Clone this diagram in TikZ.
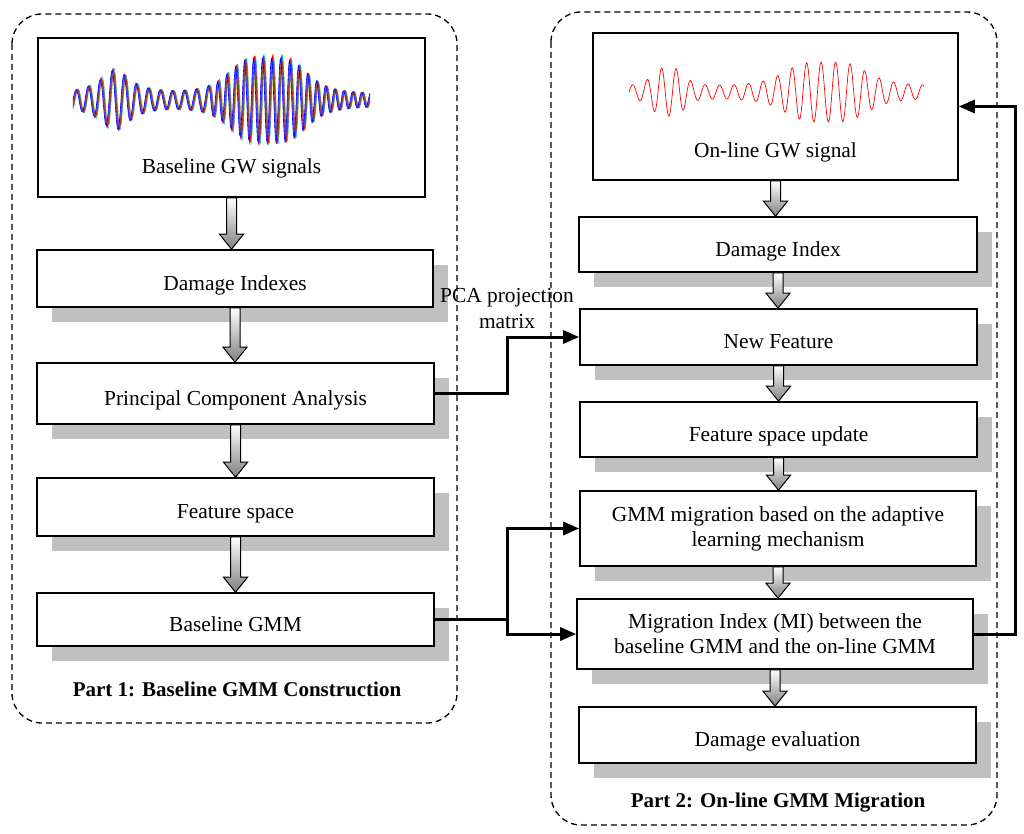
\documentclass[tikz,border=0pt]{standalone}
\usepackage{fontspec}
\setmainfont{Liberation Serif}
\usetikzlibrary{arrows.meta,shadows,calc}
\definecolor{shadowgray}{RGB}{192,192,192}
\tikzset{
  box/.style={draw=black, line width=1.6pt, fill=white, rectangle, inner sep=0pt,
    font=\fontsize{21.4}{25}\selectfont, align=center},
  shbox/.style={box, drop shadow={shadow xshift=15pt, shadow yshift=-15pt, fill=shadowgray, opacity=1}},
  oneline/.style={text height=23pt, text depth=0pt},
  frame/.style={draw=black, line width=1.3pt, dash pattern=on 6pt off 4pt, rounded corners=30pt},
  conn/.style={draw=black, line width=3pt, -{Triangle[length=16pt,width=13pt]}},
  lbl/.style={font=\fontsize{21.4}{26}\selectfont, align=center, inner sep=0pt},
  partlbl/.style={font=\fontsize{21}{25}\selectfont\bfseries, inner sep=0pt, anchor=base},
  wave/.style={line width=0.6pt},
  declare function={
    envA(\t)=6+24/(1+min(abs((\t-115)/18),12)^2)+36/(1+min(abs((\t-268)/42),8)^4);
    phA(\t)=(\t<210) ? (30*(\t-73)) : (4110+40*(\t-210));
    envB(\t)=6+18/(1+min(abs((\t-668)/18),8)^4)+24/(1+min(abs((\t-826)/45),8)^4);
  }
}
\newcommand\garrow[2]{%
  \path[draw=black, line width=1pt, top color=white, bottom color=black!50]
    let \p1=(#1.south), \p2=(#2.north) in
    (\x1-5pt,\y1) -- (\x1-5pt,\y2+15pt) -- (\x1-12pt,\y2+15pt) -- (\x1,\y2)
    -- (\x1+12pt,\y2+15pt) -- (\x1+5pt,\y2+15pt) -- (\x1+5pt,\y1) -- cycle;}
\begin{document}
\begin{tikzpicture}[x=1pt,y=-1pt]
\useasboundingbox (0,0) rectangle (1024,834);
\fill[white] (0,0) rectangle (1024,834);

% frames
\draw[frame] (12,14) rectangle (457,723);
\draw[frame] (551,12) rectangle (997,825);

% left column
\node[box, minimum width=387pt, minimum height=159pt] (gw) at (231.5,117.5) {};
\foreach \c/\d/\s in {yellow!85!orange/2.4/0.9, cyan/2.0/1.05, magenta/1.6/0.95, green!60!black/1.2/1.0, red/0.8/1.05, blue!70/0.4/0.95, blue/0/1.0}{
  \draw[wave, \c] plot[domain=73:370, samples=500] (\x, {100 - \s*envA(\x)*sin(phA(\x-\d))});
}
\node[lbl, anchor=base] (gwt) at (231.5,174) {Baseline GW signals};
\node[shbox, oneline, minimum width=396pt, minimum height=57pt] (di) at (235,278.5) {Damage Indexes};
\node[shbox, oneline, minimum width=397pt, minimum height=61pt] (pca) at (235.5,393.5) {Principal Component Analysis};
\node[shbox, oneline, minimum width=397pt, minimum height=58pt] (fs) at (235.5,507) {Feature space};
\node[shbox, oneline, minimum width=397pt, minimum height=53pt] (bgmm) at (235.5,619.5) {Baseline GMM};
\node[partlbl] (p1) at (237,696) {Part 1: Baseline GMM Construction};

% right column
\node[box, minimum width=365pt, minimum height=147pt] (ogw) at (775.5,106.5) {};
\draw[wave, red, line width=0.7pt] plot[domain=629:924, samples=400] (\x, {92 - envB(\x)*sin(24.83*(\x-629))});
\node[lbl, anchor=base] (ogwt) at (775.5,158) {On-line GW signal};
\node[shbox, oneline, minimum width=398pt, minimum height=55pt] (rdi) at (778,244.5) {Damage Index};
\node[shbox, oneline, minimum width=397pt, minimum height=56pt] (nf) at (778.5,337) {New Feature};
\node[shbox, oneline, minimum width=397pt, minimum height=55pt] (fsu) at (778.5,429.5) {Feature space update};
\node[shbox, minimum width=396pt, minimum height=75pt] (gmig) at (778,528.5) {GMM migration based on the adaptive\\learning mechanism};
\node[shbox, minimum width=396pt, minimum height=70pt] (mi) at (775,634) {Migration Index (MI) between the\\baseline GMM and the on-line GMM};
\node[shbox, oneline, minimum width=397pt, minimum height=56pt] (de) at (777.5,735) {Damage evaluation};
\node[partlbl] (p2) at (778,807) {Part 2: On-line GMM Migration};

% block arrows
\garrow{gw}{di}
\garrow{di}{pca}
\garrow{pca}{fs}
\garrow{fs}{bgmm}
\garrow{ogw}{rdi}
\garrow{rdi}{nf}
\garrow{nf}{fsu}
\garrow{fsu}{gmig}
\garrow{gmig}{mi}
\garrow{mi}{de}

% connectors
\coordinate (jx) at (507,0);
\coordinate (fb) at (1015,0);
\node[lbl] (pcal) at (507,309) {PCA projection\\matrix};
\draw[conn] (pca.east) -- (pca.east -| jx) |- (nf.west);
\draw[conn] (bgmm.east) -- (bgmm.east -| jx) |- (gmig.west);
\draw[conn] (bgmm.east -| jx) |- (mi.west);
\draw[conn] (mi.east) -- (mi.east -| fb) |- (ogw.east);
\end{tikzpicture}
\end{document}
